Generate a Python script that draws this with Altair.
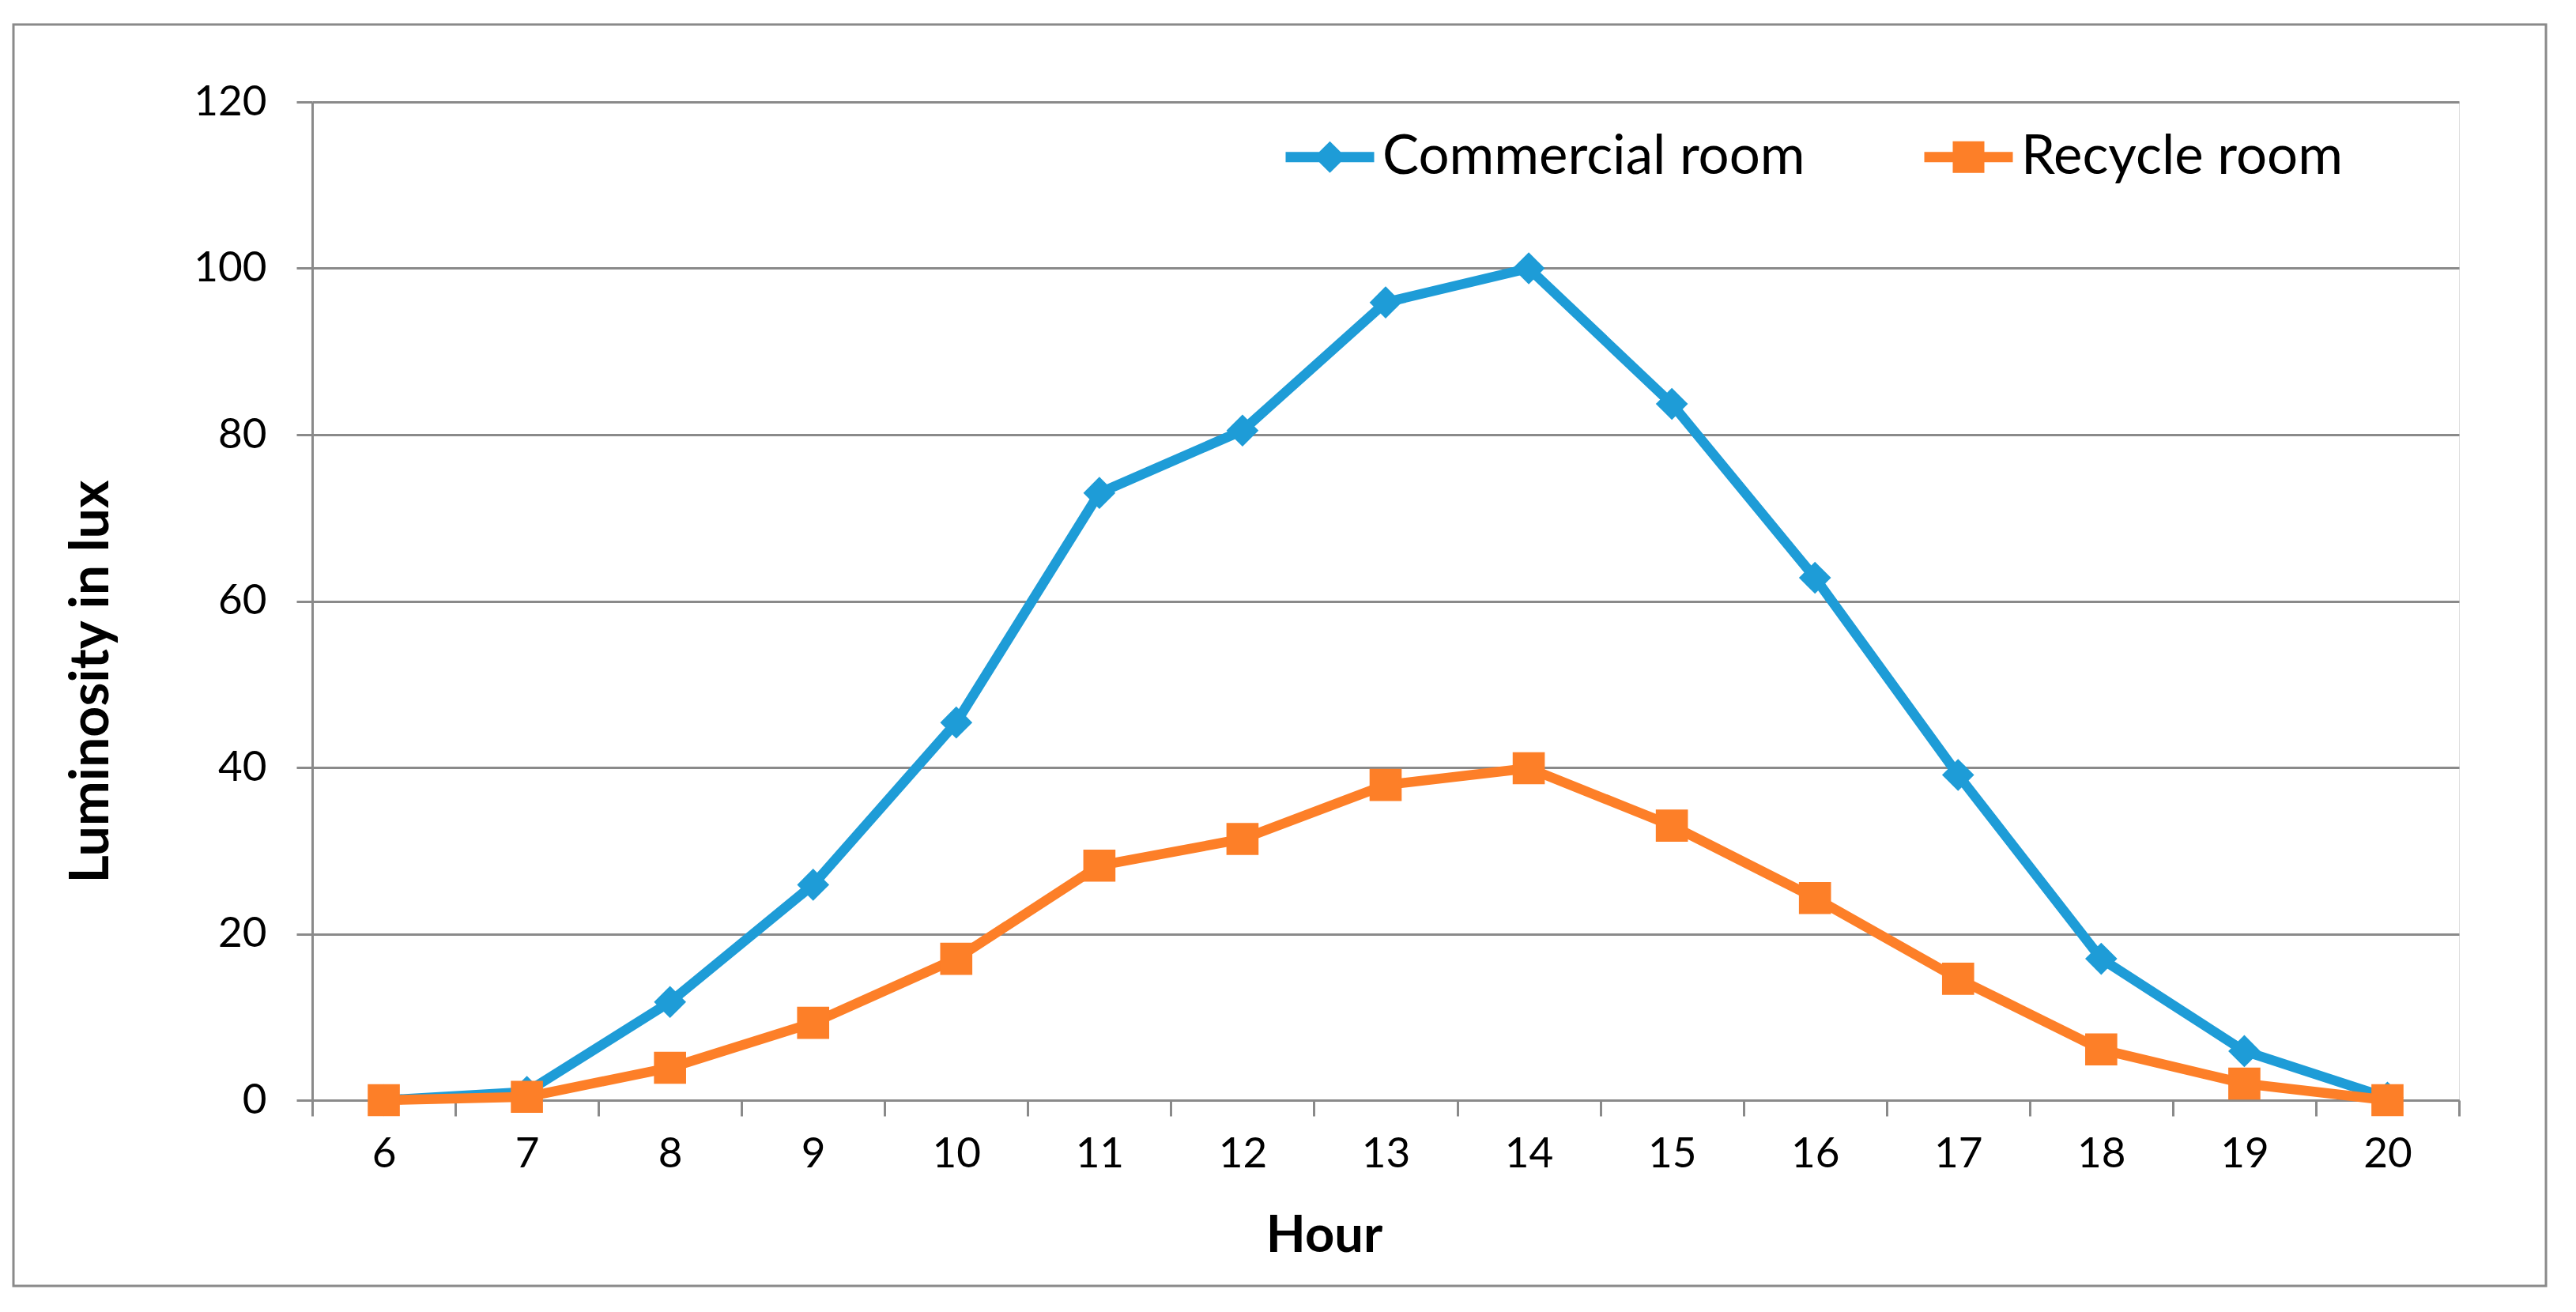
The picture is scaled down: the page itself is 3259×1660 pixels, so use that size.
import altair as alt
import pandas as pd

hours = [6, 7, 8, 9, 10, 11, 12, 13, 14, 15, 16, 17, 18, 19, 20]
commercial = [0, 1, 11.8, 25.9, 45.4, 73, 80.5, 95.9, 100, 83.7, 62.8, 39.1, 17, 5.9, 0.3]
recycle = [0, 0.4, 3.9, 9.3, 17, 28.2, 31.4, 37.9, 39.9, 33, 24.3, 14.6, 6.1, 2, 0]
series_names = ["Commercial room", "Recycle room"]
series_colors = ["#1e9cd7", "#fd7f28"]
y_ticks = [0, 20, 40, 60, 80, 100, 120]

rows = []
for h, c, r in zip(hours, commercial, recycle):
    rows.append({"hour": h, "series": series_names[0], "value": c})
    rows.append({"hour": h, "series": series_names[1], "value": r})
df = pd.DataFrame(rows)

FONT = "Lato"
GREY = "#8a8a8a"
W, H = 2716, 1263

diamond_path = ("M-2.8,-0.32L-0.68,-0.32L0,-1L0.68,-0.32L2.8,-0.32L2.8,0.32L0.68,0.32L0,1"
                "L-0.68,0.32L-2.8,0.32Z")
square_path = ("M-2.8,-0.32L-1,-0.32L-1,-1L1,-1L1,-0.32L2.8,-0.32L2.8,0.32L1,0.32L1,1L-1,1"
               "L-1,0.32L-2.8,0.32Z")

legend = alt.Legend(
    title=None,
    orient="none",
    direction="horizontal",
    legendX=1253,
    legendY=35,
    padding=0,
    symbolSize=1600,
    symbolStrokeWidth=0,
    symbolOpacity=1,
    labelFont=FONT,
    labelFontSize=69,
    labelColor="black",
    labelOffset=32,
    labelLimit=2000,
    columnPadding=150,
)

color = alt.Color(
    "series:N",
    scale=alt.Scale(domain=series_names, range=series_colors),
    legend=legend,
)

x = alt.X(
    "hour:O",
    scale=alt.Scale(type="band", paddingInner=0, paddingOuter=0),
    axis=alt.Axis(
        title="Hour",
        tickBand="extent",
        labelAngle=0,
        labelFont=FONT,
        labelFontSize=53,
        labelColor="black",
        labelPadding=22,
        tickSize=20,
        tickWidth=3,
        tickColor=GREY,
        domainColor=GREY,
        domainWidth=3,
        grid=False,
        titleFont=FONT,
        titleFontSize=65,
        titleFontWeight="bold",
        titleColor="black",
        titleX=1280,
        titleY=171,
        titleAlign="center",
        titleBaseline="middle",
    ),
)

y = alt.Y(
    "value:Q",
    scale=alt.Scale(domain=[0, 120], nice=False),
    axis=alt.Axis(
        title="Luminosity in lux",
        values=y_ticks,
        labelFont=FONT,
        labelFontSize=53,
        labelColor="black",
        labelPadding=38,
        tickSize=20,
        tickWidth=3,
        tickColor=GREY,
        domainColor=GREY,
        domainWidth=3,
        grid=True,
        gridColor=GREY,
        gridWidth=3,
        titleFont=FONT,
        titleFontSize=68,
        titleFontWeight="bold",
        titleColor="black",
        titleAngle=270,
        titleX=-279,
        titleY=733,
        titleAlign="center",
        titleBaseline="middle",
    ),
)

base = alt.Chart(df)


def series_layers(name, marker):
    flt = alt.datum.series == name
    line = base.transform_filter(flt).mark_line(strokeWidth=12.5, strokeJoin="round").encode(
        x=x, y=y, color=color
    )
    pts = base.transform_filter(flt).mark_point(
        filled=True, size=1650, opacity=1, shape=marker
    ).encode(x=x, y=y, color=color)
    return [line, pts]


# legend-only layer (no rows drawn): gives line+marker legend symbols
legend_layer = base.transform_filter("false").mark_point(filled=True).encode(
    x=x,
    y=y,
    color=color,
    shape=alt.Shape(
        "series:N",
        scale=alt.Scale(domain=series_names, range=[diamond_path, square_path]),
        legend=legend,
    ),
)

border = alt.Chart(pd.DataFrame({"b": [0]})).mark_rect(
    fillOpacity=0, stroke=GREY, strokeWidth=3
).encode(
    x=alt.value(-378), x2=alt.value(2826), y=alt.value(-98), y2=alt.value(1498)
)

layers = [border] + series_layers(series_names[0], "diamond") + series_layers(series_names[1], "square") + [legend_layer]

chart = alt.layer(*layers).properties(
    width=W,
    height=H,
    autosize=alt.AutoSizeParams(type="none"),
    padding={"left": 387, "top": 121, "right": 130, "bottom": 250},
).configure_view(stroke=None).configure(background="white")

chart.save("out.html", embed_options={"renderer": "svg", "actions": False})
